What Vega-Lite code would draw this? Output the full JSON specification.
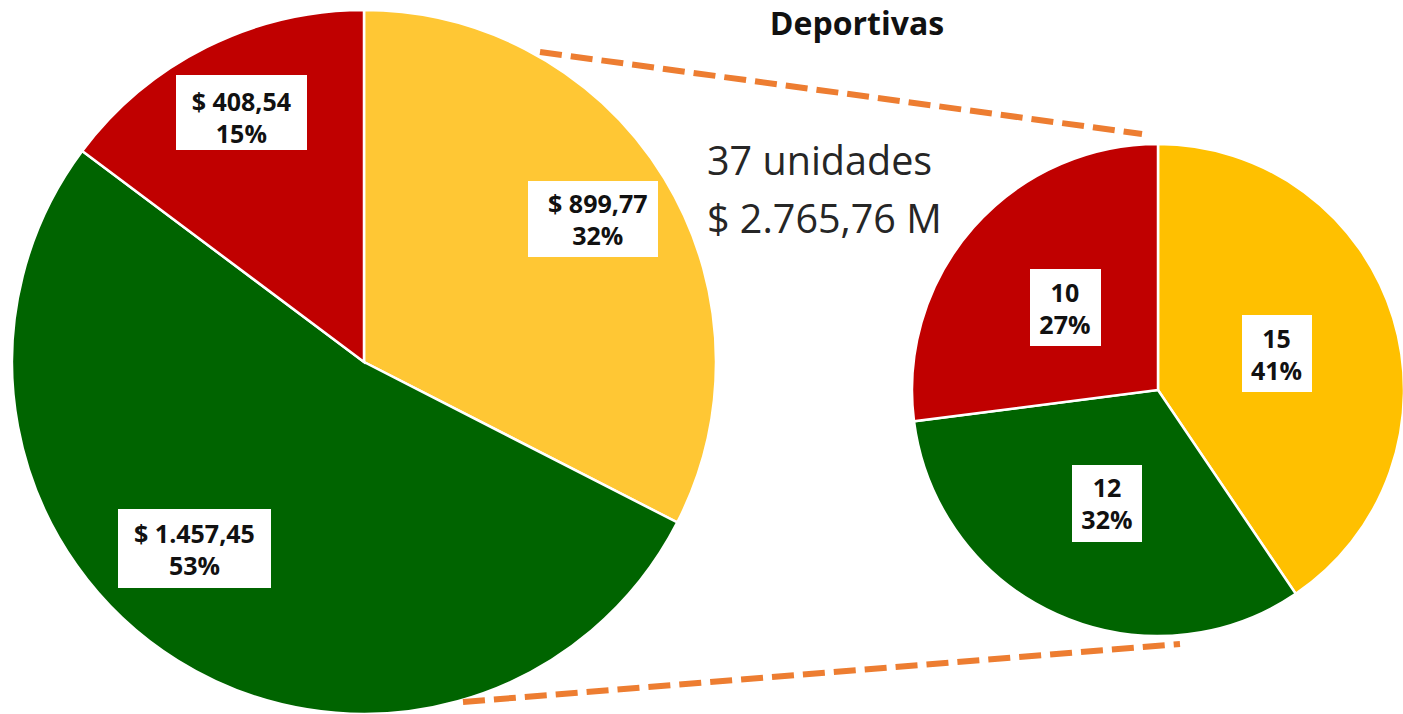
{
  "$schema": "https://vega.github.io/schema/vega-lite/v6.json",
  "width": 1403,
  "height": 714,
  "autosize": {"type": "none"},
  "padding": 0,
  "background": "white",
  "config": {"view": {"stroke": null}},
  "datasets": {
    "izq": [
      {"cat": "Amarillo", "ord": 1, "valor": 899.77, "label": "$ 899,77\n32%"},
      {"cat": "Verde", "ord": 2, "valor": 1457.45, "label": "$ 1.457,45\n53%"},
      {"cat": "Rojo", "ord": 3, "valor": 408.54, "label": "$ 408,54\n15%"}
    ],
    "der": [
      {"cat": "Amarillo", "ord": 1, "unidades": 15, "label": "15\n41%"},
      {"cat": "Verde", "ord": 2, "unidades": 12, "label": "12\n32%"},
      {"cat": "Rojo", "ord": 3, "unidades": 10, "label": "10\n27%"}
    ]
  },
  "layer": [
    {
      "data": {"name": "izq"},
      "mark": {"type": "arc", "outerRadius": 352, "stroke": "white", "strokeWidth": 2.5},
      "encoding": {
        "theta": {"field": "valor", "type": "quantitative", "stack": true},
        "order": {"field": "ord", "type": "quantitative"},
        "color": {"field": "cat", "type": "nominal", "legend": null, "scale": {"domain": ["Amarillo", "Verde", "Rojo"], "range": ["#FFC734", "#006400", "#C00000"]}},
        "x": {"datum": 364, "type": "quantitative", "scale": {"domain": [0, 1403], "nice": false, "zero": false}, "axis": null},
        "y": {"datum": 362, "type": "quantitative", "scale": {"domain": [0, 714], "nice": false, "zero": false, "reverse": true}, "axis": null}
      }
    },
    {
      "data": {"name": "der"},
      "mark": {"type": "arc", "outerRadius": 246, "stroke": "white", "strokeWidth": 2.5},
      "encoding": {
        "theta": {"field": "unidades", "type": "quantitative", "stack": true},
        "order": {"field": "ord", "type": "quantitative"},
        "color": {"field": "cat", "type": "nominal", "legend": null, "scale": {"domain": ["Amarillo", "Verde", "Rojo"], "range": ["#FFC000", "#006400", "#C00000"]}},
        "x": {"datum": 1158, "type": "quantitative"},
        "y": {"datum": 390, "type": "quantitative"}
      }
    },
    {
      "data": {"values": [{}]},
      "mark": {"type": "rect", "color": "white"},
      "encoding": {
        "x": {"datum": 176, "type": "quantitative"}, "x2": {"datum": 307},
        "y": {"datum": 75, "type": "quantitative"}, "y2": {"datum": 150}
      }
    },
    {
      "data": {"values": [{}]},
      "mark": {"type": "rect", "color": "white"},
      "encoding": {
        "x": {"datum": 528, "type": "quantitative"}, "x2": {"datum": 658},
        "y": {"datum": 181, "type": "quantitative"}, "y2": {"datum": 257}
      }
    },
    {
      "data": {"values": [{}]},
      "mark": {"type": "rect", "color": "white"},
      "encoding": {
        "x": {"datum": 118, "type": "quantitative"}, "x2": {"datum": 271},
        "y": {"datum": 509, "type": "quantitative"}, "y2": {"datum": 588}
      }
    },
    {
      "data": {"values": [{}]},
      "mark": {"type": "rect", "color": "white"},
      "encoding": {
        "x": {"datum": 1030, "type": "quantitative"}, "x2": {"datum": 1101},
        "y": {"datum": 269, "type": "quantitative"}, "y2": {"datum": 346}
      }
    },
    {
      "data": {"values": [{}]},
      "mark": {"type": "rect", "color": "white"},
      "encoding": {
        "x": {"datum": 1242, "type": "quantitative"}, "x2": {"datum": 1312},
        "y": {"datum": 315, "type": "quantitative"}, "y2": {"datum": 392}
      }
    },
    {
      "data": {"values": [{}]},
      "mark": {"type": "rect", "color": "white"},
      "encoding": {
        "x": {"datum": 1072, "type": "quantitative"}, "x2": {"datum": 1142},
        "y": {"datum": 465, "type": "quantitative"}, "y2": {"datum": 542}
      }
    },
    {
      "data": {"name": "izq"},
      "mark": {"type": "text", "radius": 274, "dy": -14, "font": "Open Sans", "fontWeight": "bold", "fontSize": 25, "lineHeight": 32, "lineBreak": "\n", "color": "#111111", "align": "center", "baseline": "middle"},
      "encoding": {
        "theta": {"field": "valor", "type": "quantitative", "stack": true},
        "order": {"field": "ord", "type": "quantitative"},
        "text": {"condition": {"test": "datum.cat === 'Verde'", "value": ""}, "field": "label"},
        "x": {"datum": 364, "type": "quantitative"},
        "y": {"datum": 362, "type": "quantitative"}
      }
    },
    {
      "data": {"name": "izq"},
      "mark": {"type": "text", "radius": 252, "thetaOffset": 0.18, "dy": -13, "font": "Open Sans", "fontWeight": "bold", "fontSize": 25, "lineHeight": 32, "lineBreak": "\n", "color": "#111111", "align": "center", "baseline": "middle"},
      "encoding": {
        "theta": {"field": "valor", "type": "quantitative", "stack": true},
        "order": {"field": "ord", "type": "quantitative"},
        "text": {"condition": {"test": "datum.cat !== 'Verde'", "value": ""}, "field": "label"},
        "x": {"datum": 364, "type": "quantitative"},
        "y": {"datum": 362, "type": "quantitative"}
      }
    },
    {
      "data": {"name": "der"},
      "mark": {"type": "text", "radius": 124, "dy": -14, "font": "Open Sans", "fontWeight": "bold", "fontSize": 25, "lineHeight": 32, "lineBreak": "\n", "color": "#111111", "align": "center", "baseline": "middle"},
      "encoding": {
        "theta": {"field": "unidades", "type": "quantitative", "stack": true},
        "order": {"field": "ord", "type": "quantitative"},
        "text": {"field": "label"},
        "x": {"datum": 1158, "type": "quantitative"},
        "y": {"datum": 390, "type": "quantitative"}
      }
    },
    {
      "data": {"values": [{}]},
      "mark": {"type": "rule", "color": "#ED7D31", "strokeWidth": 6, "strokeDash": [22, 9]},
      "encoding": {
        "x": {"datum": 540, "type": "quantitative"},
        "y": {"datum": 52, "type": "quantitative"},
        "x2": {"datum": 1142},
        "y2": {"datum": 134}
      }
    },
    {
      "data": {"values": [{}]},
      "mark": {"type": "rule", "color": "#ED7D31", "strokeWidth": 6, "strokeDash": [22, 9]},
      "encoding": {
        "x": {"datum": 463, "type": "quantitative"},
        "y": {"datum": 702, "type": "quantitative"},
        "x2": {"datum": 1180},
        "y2": {"datum": 644}
      }
    },
    {
      "data": {"values": [{}]},
      "mark": {"type": "text", "font": "Open Sans", "fontWeight": "bold", "fontSize": 32, "color": "#111111", "align": "center", "baseline": "alphabetic"},
      "encoding": {
        "text": {"value": "Deportivas"},
        "x": {"datum": 857, "type": "quantitative"},
        "y": {"datum": 35, "type": "quantitative"}
      }
    },
    {
      "data": {"values": [{}]},
      "mark": {"type": "text", "font": "Open Sans", "fontSize": 39.5, "lineHeight": 58, "color": "#262626", "align": "left", "baseline": "alphabetic"},
      "encoding": {
        "text": {"value": ["37 unidades", "$ 2.765,76 M"]},
        "x": {"datum": 707, "type": "quantitative"},
        "y": {"datum": 175, "type": "quantitative"}
      }
    }
  ],
  "resolve": {"scale": {"theta": "independent", "color": "independent"}}
}
